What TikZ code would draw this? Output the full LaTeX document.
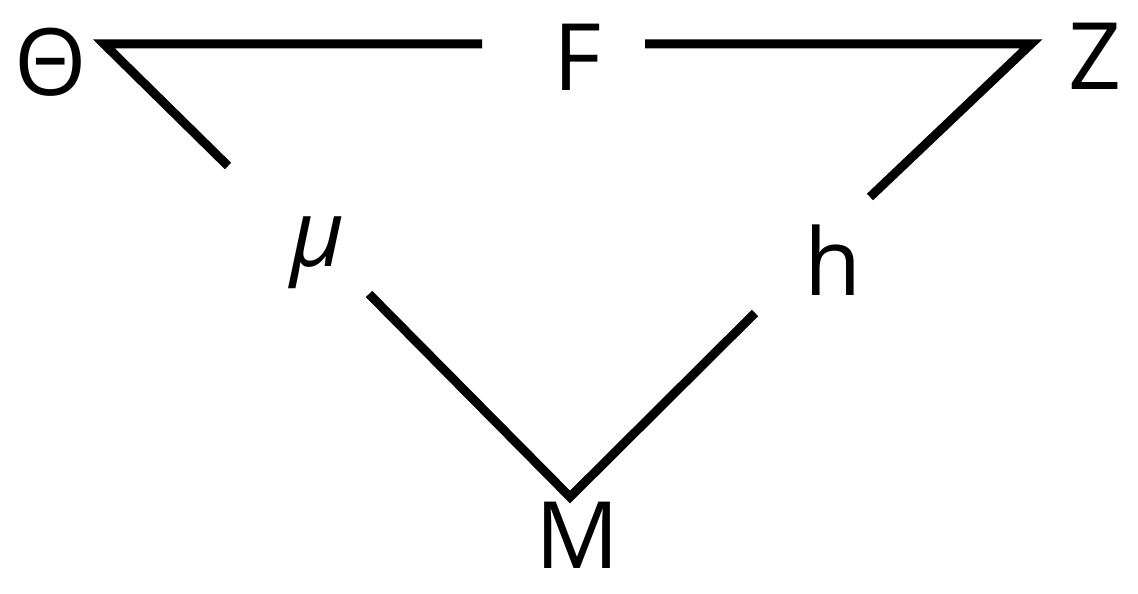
\documentclass[tikz,border=0pt]{standalone}
\usepackage{fontspec}
\setmainfont{Open Sans}
\begin{document}
\begin{tikzpicture}[x=1pt,y=-1pt,
  lbl/.style={inner sep=0pt,font=\fontsize{93}{93}\selectfont},
  edge/.style={line width=9pt,line join=miter}]
\useasboundingbox (0,0) rectangle (1138,594);
\node[lbl] (Theta) at (51,62) {Θ};
\node[lbl] (F) at (577,57) {F};
\node[lbl] (Z) at (1095,56) {Z};
\node[lbl] (mu) at (318,253) {\itshape μ};
\node[lbl] (h) at (833,260) {h};
\node[lbl] (M) at (577,535) {M};
\coordinate (fl) at (482,44);
\coordinate (cT) at (104,44);
\coordinate (mut) at (228,166);
\coordinate (fr) at (645,44);
\coordinate (cZ) at (1031,44);
\coordinate (ht) at (870,197);
\coordinate (mub) at (369,294);
\coordinate (cM) at (570,497);
\coordinate (hb) at (755,313);
\draw[edge] (fl) -- (cT) -- (mut);
\draw[edge] (fr) -- (cZ) -- (ht);
\draw[edge] (mub) -- (cM) -- (hb);
\end{tikzpicture}
\end{document}
